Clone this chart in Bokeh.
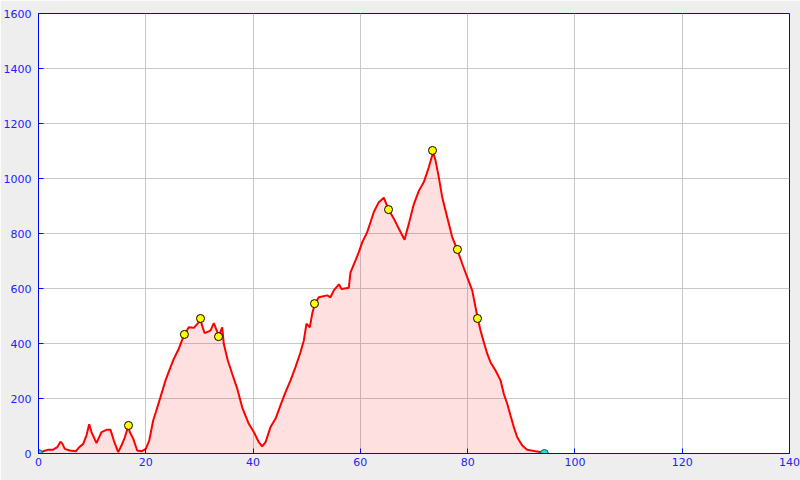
from bokeh.plotting import figure
from bokeh.embed import file_html
from bokeh.resources import INLINE
from bokeh.models import Range1d, FixedTicker

# Elevation profile (distance km, elevation m)
distance = [0.0, 0.88, 1.81, 2.74, 3.49, 4.10, 4.47, 4.90, 5.83, 6.95, 7.59, 8.33, 8.95, 9.45,
            9.88, 10.81, 11.74, 12.68, 13.42, 14.04, 14.86, 15.47, 16.09, 16.59, 16.78, 17.02,
            17.65, 18.40, 19.20, 20.00, 20.64, 21.38, 21.87, 22.74, 23.68, 24.61, 25.22, 26.16,
            27.09, 28.02, 28.95, 30.20, 30.95, 32.06, 32.68, 33.61, 34.25, 34.54, 35.29, 36.11,
            37.04, 37.97, 39.20, 40.14, 41.07, 41.70, 42.32, 43.25, 44.18, 45.11, 46.05, 46.98,
            47.91, 48.84, 49.46, 49.96, 50.58, 51.02, 51.51, 52.25, 53.82, 54.43, 55.05, 56.00,
            56.30, 56.50, 57.85, 58.16, 59.10, 59.71, 60.35, 61.28, 61.89, 62.51, 63.44, 64.37,
            65.30, 66.24, 67.35, 68.23, 69.03, 69.96, 70.90, 71.83, 72.76, 73.39, 73.50, 74.01,
            74.62, 75.26, 76.19, 77.12, 78.05, 78.99, 79.92, 80.85, 81.47, 81.90, 82.40, 83.01,
            83.65, 84.26, 85.20, 86.13, 86.74, 87.38, 87.99, 88.61, 89.24, 90.17, 91.10, 92.65,
            94.38]
elevation = [0, 8, 14, 14, 23, 43, 35, 17, 11, 8, 23, 35, 66, 106,
             78, 38, 78, 86, 86, 47, 5, 29, 59, 90, 96, 78,
             54, 11, 8, 17, 47, 120, 150, 205, 266, 314, 344, 381,
             429, 459, 457, 484, 438, 447, 474, 429, 459, 399, 338, 290,
             236, 168, 108, 78, 41, 26, 41, 96, 126, 175, 223, 266,
             314, 368, 411, 472, 459, 508, 544, 568, 575, 568, 593, 615,
             605, 598, 603, 659, 702, 732, 768, 805, 841, 878, 914, 930,
             886, 854, 811, 777, 835, 906, 955, 987, 1041, 1084, 1099, 1066,
             1005, 932, 859, 787, 742, 690, 641, 593, 532, 490, 447, 405,
             363, 332, 302, 266, 217, 181, 138, 96, 59, 29, 14, 8,
             3]

# Waypoints
wp_distance = [16.78, 27.2, 30.2, 33.56, 51.45, 65.25, 73.45, 78.1, 81.84]
wp_elevation = [102, 433, 491, 425, 545, 887, 1102, 742, 491]
end_distance = [0.0, 94.3]
end_elevation = [0, 0]

x_ticks = [0, 20, 40, 60, 80, 100, 120, 140]
y_ticks = [0, 200, 400, 600, 800, 1000, 1200, 1400, 1600]

p = figure(width=800, height=480, output_backend="svg", toolbar_location=None,
           x_range=Range1d(0, 140), y_range=Range1d(0, 1600),
           min_border_left=38, min_border_right=11, min_border_top=13, min_border_bottom=27)

p.background_fill_color = "white"
p.border_fill_color = "#eeeeee"
p.outline_line_color = "#0000ff"
p.outline_line_width = 1

p.varea(x=distance, y1=0, y2=elevation, fill_color="red", fill_alpha=0.12)
p.line(distance, elevation, line_color="red", line_width=2)
p.scatter(wp_distance, wp_elevation, size=8, fill_color="yellow", line_color="black", line_width=1)
p.scatter(end_distance, end_elevation, size=8, fill_color="#22dddd", line_color="#006666", line_width=1)

for ax, ticks in ((p.xaxis[0], x_ticks), (p.yaxis[0], y_ticks)):
    ax.ticker = FixedTicker(ticks=ticks)
    ax.axis_line_color = "#0000ff"
    ax.major_tick_line_color = "#0000ff"
    ax.major_tick_in = 5
    ax.major_tick_out = 0
    ax.minor_tick_line_color = None
    ax.major_label_text_color = "#2222ff"
    ax.major_label_text_font = "DejaVu Sans"
    ax.major_label_text_font_size = "11px"
p.xaxis[0].major_label_standoff = 4
p.yaxis[0].major_label_standoff = 7

p.xgrid.ticker = FixedTicker(ticks=x_ticks)
p.ygrid.ticker = FixedTicker(ticks=y_ticks)
p.grid.grid_line_color = "#c8c8c8"
p.grid.grid_line_width = 1

open("out.html", "w").write(file_html(p, INLINE))
